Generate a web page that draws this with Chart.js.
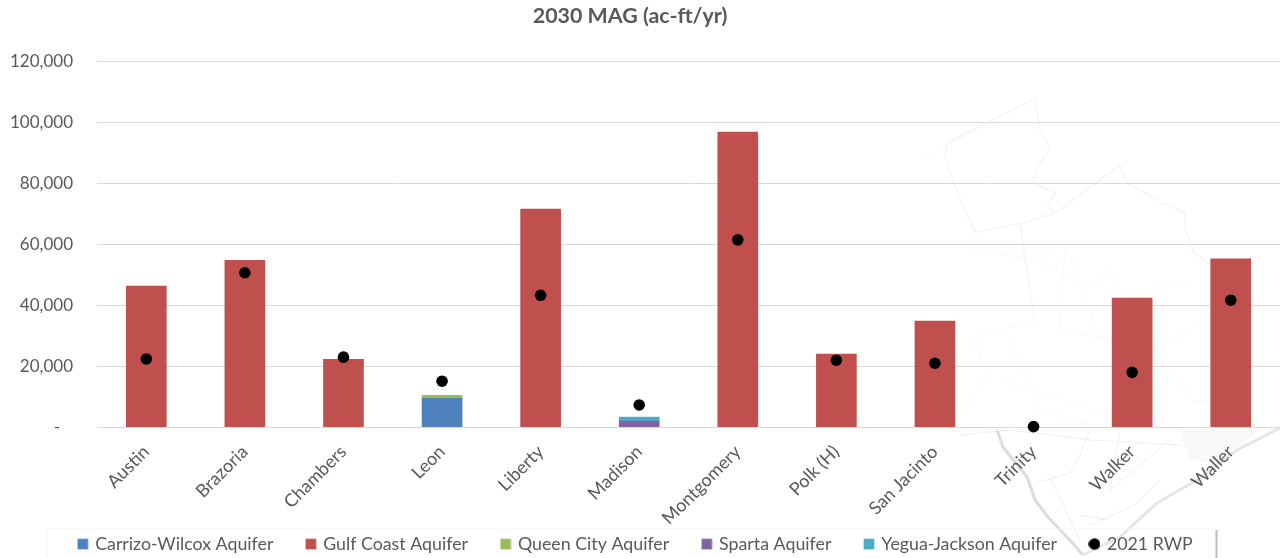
<!DOCTYPE html>
<html><head><meta charset="utf-8">
<style>html,body{margin:0;padding:0;background:#fff;overflow:hidden}
#w{position:relative;width:1280px;height:558px}
canvas{position:absolute;left:0;top:0}
svg{position:absolute;left:0;top:0}</style>
<script src="https://cdn.jsdelivr.net/npm/chart.js@4"></script></head><body>
<div id="w">
<svg width="1280" height="558" fill="none" stroke-linejoin="round">
<path stroke="#f7f7f7" stroke-width="2" d="M947 143L983 125L1028 102L1035 98L1037 112L1040 130L1050 148L1038 167L1033 182L1055 193L1048 205L1055 213L1120 165L1127 183L1153 197L1167 205L1185 213L1185 227L1193 252L1210 265M947 143L945 157L960 200L975 232L1020 224L1055 213M1020 224L1033 310L1035 323"/>
<path stroke="#f9f9f9" stroke-width="1" d="M1033 323L980 333L975 343L987 377L960 413M920 160L985 125M1035 255L1065 245L1085 290L1110 270L1125 295L1190 280M970 250L1040 260L1080 285L1100 340L1160 350L1220 310M1160 350L1190 400L1240 405M1010 340L1040 410L1110 430M1065 245L1060 330L1140 345M1000 380L1110 415"/>
<path stroke="#efefef" stroke-width="1" d="M960 435L1010 430L1090 440L1180 445M1037 483L1070 473L1080 455L1090 430M1050 477L1080 540M1120 430L1110 490L1170 440M1090 525L1135 505L1160 480M1080 515L1110 520"/>
<path stroke="#dcdcdc" stroke-width="3" d="M997 430L1003 447L1027 477L1035 500L1048 517L1067 537L1083 555"/>
<path stroke="#e6e6e6" stroke-width="3" d="M1083 555L1120 537L1157 503L1197 480L1237 450L1280 428"/>
<path fill="#f8f8f8" stroke="none" d="M1180 430H1260L1215 462L1190 460Z"/>
</svg>
<canvas id="c" width="1280" height="558"></canvas>
<svg width="1280" height="558" fill="none">
<path d="M47 529H1216M47 529V558" stroke="#f4f4f4"/>
<path d="M1216.5 530V558" stroke="#bdbdbd" stroke-width="2"/>
</svg>
</div>
<script>
const categories=["Austin","Brazoria","Chambers","Leon","Liberty","Madison","Montgomery","Polk (H)","San Jacinto","Trinity","Walker","Waller"];
const carrizoWilcox=[null,null,null,9500,null,null,null,null,null,null,null,null];
const gulfCoast=[46300,54800,22300,null,71600,null,96900,24000,34800,null,42400,55300];
const queenCity=[null,null,null,1000,null,null,null,null,null,null,null,null];
const sparta=[null,null,null,null,null,2000,null,null,null,null,null,null];
const yeguaJackson=[null,null,null,null,null,1300,null,null,null,null,null,null];
const rwp2021=[22400,50700,23000,15100,43300,7300,61500,22000,21000,200,18000,41700];
const bar=(label,data,color)=>({type:'bar',label,data,backgroundColor:color,stack:'s',pointStyle:'rect',barThickness:40,order:2,borderWidth:0});
Chart.defaults.font.family='Lato';
function swatch(color,round){
 const c=document.createElement('canvas');c.width=c.height=12;
 const g=c.getContext('2d');g.fillStyle=color;
 if(round){g.beginPath();g.arc(6,6,5.8,0,7);g.fill();}else g.fillRect(0.7,0.7,10.6,10.6);
 return c;
}
const nudges={id:'nudges',afterLayout(ch){ch.scales.x.bottom=ch.height;ch.legend.left+=6;ch.legend.right+=6;}};
new Chart(document.getElementById('c'),{
 plugins:[nudges],
 data:{labels:categories,datasets:[
  bar('Carrizo-Wilcox Aquifer',carrizoWilcox,'#4f81bd'),
  bar('Gulf Coast Aquifer',gulfCoast,'#c0504d'),
  bar('Queen City Aquifer',queenCity,'#9bbb59'),
  bar('Sparta Aquifer',sparta,'#8064a2'),
  bar('Yegua-Jackson Aquifer',yeguaJackson,'#4bacc6'),
  {type:'scatter',label:'2021 RWP',data:rwp2021,backgroundColor:'#000',borderWidth:0,pointStyle:'circle',pointRadius:5.8,pointHoverRadius:5.8,order:1,showLine:false,clip:false}
 ]},
 options:{responsive:false,animation:false,
  layout:{autoPadding:false,padding:{left:-20,right:0,top:0,bottom:-5}},
  plugins:{
   title:{display:true,text:'2030 MAG (ac-ft/yr)',color:'#595959',font:{size:21.4,weight:'bold'},padding:{top:3,bottom:33}},
   legend:{position:'bottom',labels:{usePointStyle:true,pointStyleWidth:7,boxHeight:10.6,padding:34,color:'#595959',font:{size:17.8},
     sort:(a,b)=>a.datasetIndex-b.datasetIndex,
     generateLabels(ch){const it=Chart.defaults.plugins.legend.labels.generateLabels(ch);it.forEach(i=>{i.pointStyle=swatch(ch.data.datasets[i.datasetIndex].backgroundColor,i.datasetIndex===5)});return it}}},
   tooltip:{enabled:false}
  },
  scales:{
   x:{stacked:true,grid:{display:false},border:{color:'#d9d9d9'},
      afterFit(a){a.height=74;a.paddingLeft=0;a.paddingRight=0},
      ticks:{color:'#595959',font:{size:18},minRotation:45,maxRotation:45,autoSkip:false,padding:6}},
   y:{stacked:true,min:0,max:120000,grid:{color:'#d9d9d9',drawTicks:false},border:{display:false},
      afterFit(a){a.width=117;a.paddingTop=0;a.paddingBottom=0},
      ticks:{stepSize:20000,color:'#595959',padding:24,font:{size:17},callback:v=>v===0?'-   ':v.toLocaleString('en-US')}}
  }
 }
});
</script></body></html>
